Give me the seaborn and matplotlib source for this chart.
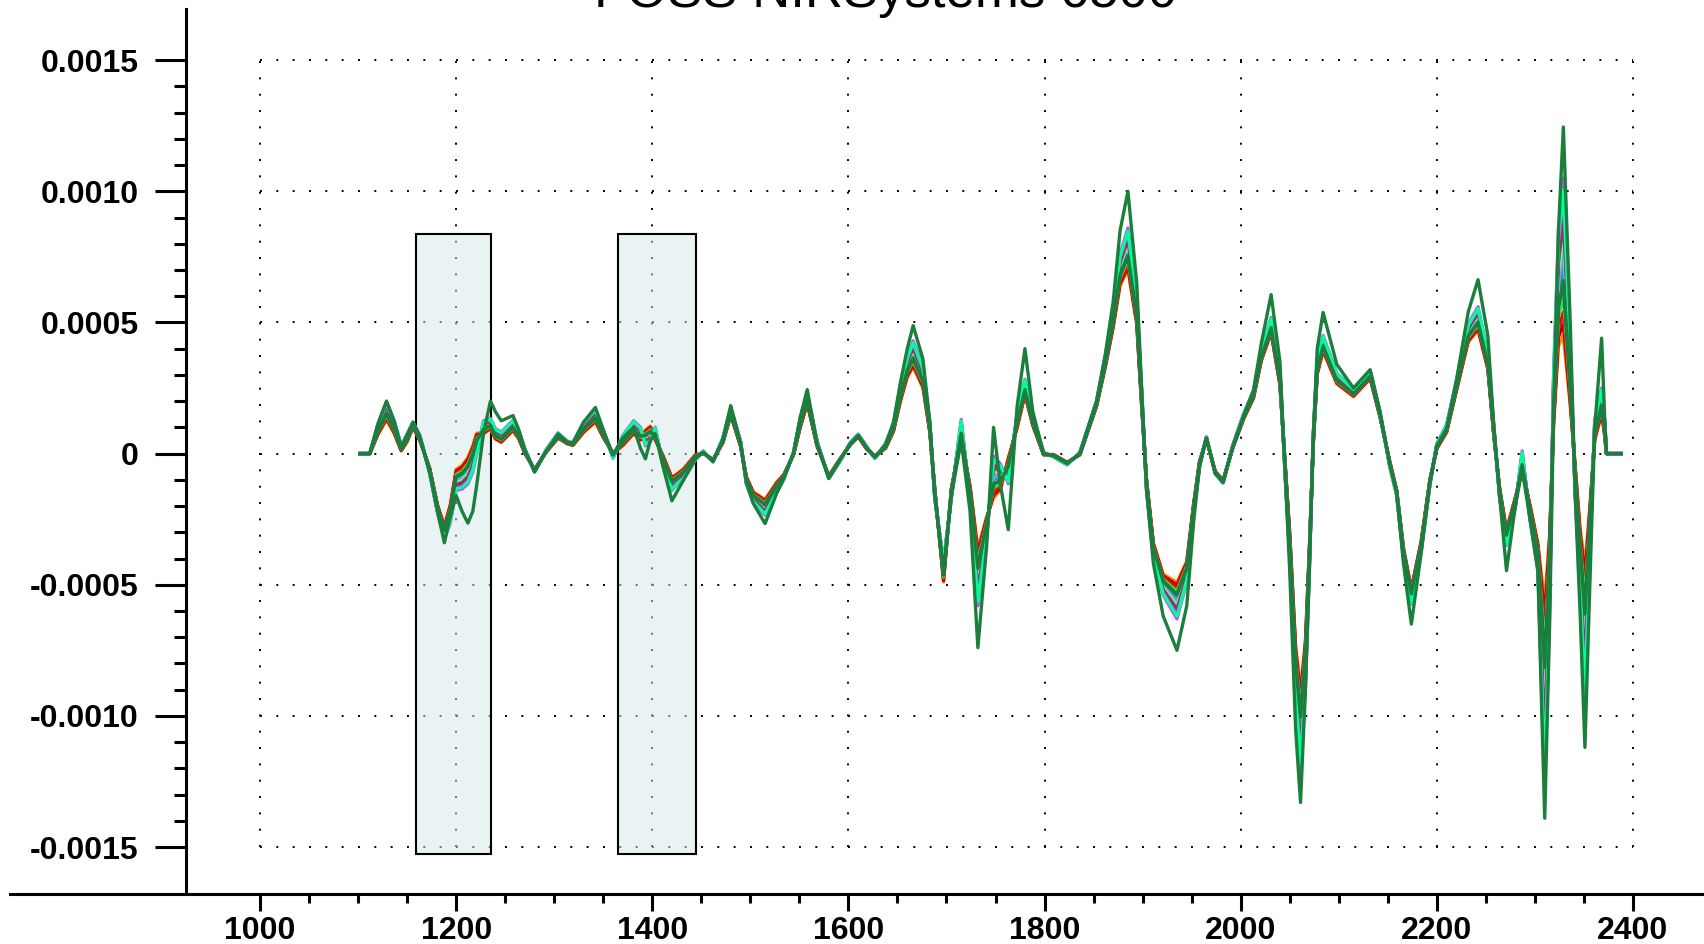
import numpy as np
import pandas as pd
import seaborn as sns
import matplotlib.pyplot as plt
from matplotlib.patches import Rectangle

# wavelength knots (nm)
wavelength = [1102, 1112, 1120, 1129, 1137, 1144, 1150, 1156, 1163, 1173,
              1181, 1188, 1194, 1200, 1206, 1212, 1217, 1221, 1228, 1235,
              1240, 1246, 1252, 1258, 1264, 1270, 1280, 1292, 1304, 1313,
              1319, 1330, 1342, 1350, 1360, 1370, 1381, 1388, 1393, 1398,
              1403, 1411, 1420, 1426, 1432, 1444, 1452, 1462, 1472, 1480,
              1490, 1496, 1503, 1515, 1527, 1534, 1544, 1551, 1558, 1568,
              1580, 1591, 1602, 1610, 1619, 1627, 1638, 1646, 1653, 1660,
              1666, 1676, 1683, 1688, 1697, 1705, 1715, 1724, 1732, 1741,
              1748, 1755, 1763, 1772, 1780, 1788, 1799, 1809, 1823, 1836,
              1853, 1862, 1870, 1877, 1885, 1894, 1899, 1904, 1911, 1921,
              1935, 1945, 1952, 1958, 1965, 1974, 1982, 1992, 2003, 2013,
              2021, 2031, 2040, 2045, 2050, 2056, 2061, 2066, 2070, 2074,
              2078, 2084, 2098, 2115, 2132, 2142, 2152, 2159, 2166, 2174,
              2184, 2193, 2200, 2210, 2220, 2232, 2242, 2252, 2258, 2264,
              2271, 2280, 2287, 2295, 2303, 2310, 2315, 2319, 2324, 2329,
              2336, 2341, 2346, 2351, 2356, 2361, 2368, 2371, 2373, 2388]

# centre of the coloured bundle, in 1e-4 units
bundle_mid = [0, 0, 0.9, 1.64, 1.0, 0.2, 0.6, 1.1, 0.6, -0.65,
              -2.1, -3.0, -2.3, -1.0, -0.9, -0.65, -0.2, 0.38, 1.0, 1.14,
              0.75, 0.62, 0.85, 1.07, 0.7, 0.1, -0.65, 0.11, 0.69, 0.43,
              0.36, 1.0, 1.45, 0.76, -0.08, 0.5, 1.0, 0.75, 0.6, 0.75,
              0.76, -0.27, -1.15, -0.95, -0.77, -0.14, 0.05, -0.27, 0.5, 1.6,
              0.38, -1.03, -1.66, -2.05, -1.28, -0.9, 0.0, 1.2, 2.1, 0.38,
              -0.9, -0.27, 0.38, 0.69, 0.2, -0.14, 0.3, 1.0, 2.28, 3.3,
              3.8, 2.9, 1.0, -1.5, -4.5, -1.5, 0.9, -1.5, -4.7, -2.8,
              -0.9, -0.9, -0.65, 1.26, 2.53, 1.26, 0.0, -0.08, -0.38, 0.0,
              1.9, 3.5, 5.2, 7.0, 7.8, 5.4, 2.1, -1.2, -3.7, -5.0,
              -5.6, -4.5, -2.1, -0.4, 0.59, -0.72, -1.07, 0.27, 1.42, 2.25,
              3.73, 4.89, 2.9, -0.4, -3.5, -8.3, -10.5, -8.0, -4.0, 0.55,
              3.3, 4.2, 2.86, 2.32, 3.0, 1.5, -0.4, -1.48, -3.8, -5.44,
              -3.53, -1.07, 0.28, 0.96, 2.59, 4.6, 5.15, 3.5, 0.9, -1.5,
              -3.2, -1.87, -0.3, -2.24, -3.9, -9.2, -4.5, 2.0, 6.3, 7.5,
              3.0, -1.0, -4.0, -6.9, -3.0, 0.9, 2.0, 1.0, 0.0, 0.0]

# signed half-width of the bundle (positive = strong samples lie higher)
bundle_spread = [0, 0, 0.2, 0.35, 0.25, 0.1, 0.15, 0.1, 0.1, -0.1,
                 -0.15, -0.25, -0.35, -0.4, -0.45, -0.5, -0.5, -0.4, 0.25, 0.2,
                 0.2, 0.2, 0.2, 0.2, 0.15, 0.1, -0.05, 0.05, 0.1, 0.05,
                 0.05, 0.2, 0.25, 0.15, -0.1, 0.2, 0.25, 0.25, -0.3, -0.3,
                 0.25, -0.2, -0.25, -0.2, -0.2, -0.1, 0.05, -0.05, 0.1, 0.15,
                 0.1, -0.15, -0.2, -0.3, -0.2, -0.1, 0.05, 0.2, 0.2, 0.1,
                 -0.05, -0.05, 0.05, 0.05, 0.05, -0.05, 0.1, 0.15, 0.3, 0.4,
                 0.5, 0.4, 0.2, -0.2, 0.4, -0.2, 0.4, -0.3, -1.1, -0.4,
                 0.8, 0.5, -0.5, 0.3, 0.3, 0.2, 0.05, -0.05, -0.05, 0.05,
                 0.1, 0.2, 0.4, 0.6, 0.8, 0.5, 0.3, -0.2, -0.3, -0.4,
                 -0.7, -0.4, -0.2, -0.1, 0.05, -0.05, -0.05, 0.05, 0.1, 0.15,
                 0.2, 0.3, 0.3, -0.2, -0.5, -1.0, -1.5, -0.9, -0.4, 0.2,
                 0.3, 0.3, 0.2, 0.15, 0.15, 0.1, -0.1, -0.1, -0.2, -0.3,
                 -0.2, -0.1, 0.1, 0.15, 0.2, 0.35, 0.45, 0.3, 0.2, -0.2,
                 -0.3, -0.2, 0.4, -0.3, -0.5, -3.5, -1.5, 1.0, 2.2, 3.0,
                 1.2, -0.6, -1.2, -2.6, -1.0, 0.4, 0.5, 0.3, 0.0, 0.0]

# the outlying dark green spectrum
outlier = [0, 0, 1.1, 2.0, 1.2, 0.25, 0.7, 1.2, 0.65, -0.7,
           -2.2, -3.4, -2.4, -1.6, -2.2, -2.65, -2.2, -1.2, 0.8, 2.0,
           1.6, 1.25, 1.35, 1.45, 0.9, 0.15, -0.7, 0.1, 0.75, 0.45,
           0.4, 1.2, 1.76, 0.9, -0.05, 0.6, 1.0, 0.2, -0.2, 0.5,
           0.76, -0.5, -1.8, -1.4, -1.0, -0.2, 0.05, -0.3, 0.55, 1.83,
           0.4, -1.1, -1.9, -2.67, -1.5, -0.95, 0.0, 1.4, 2.44, 0.4,
           -0.95, -0.27, 0.38, 0.7, 0.2, -0.14, 0.35, 1.2, 2.7, 4.0,
           4.88, 3.6, 1.2, -1.6, -4.5, -1.6, 0.5, -2.2, -7.4, -3.5,
           1.0, -1.2, -2.9, 1.8, 4.0, 1.6, 0.0, -0.08, -0.38, 0.0,
           2.0, 3.8, 5.8, 8.5, 10.0, 6.5, 2.5, -1.4, -4.2, -6.2,
           -7.5, -5.8, -2.6, -0.5, 0.6, -0.75, -1.1, 0.27, 1.45, 2.4,
           4.2, 6.06, 3.5, -0.5, -4.5, -10.5, -13.3, -9.0, -4.5, 0.6,
           4.0, 5.38, 3.4, 2.5, 3.2, 1.6, -0.4, -1.5, -4.2, -6.5,
           -3.8, -1.1, 0.3, 0.96, 2.8, 5.4, 6.63, 4.5, 1.1, -1.6,
           -4.46, -2.0, -0.6, -2.5, -4.5, -13.9, -6.5, 1.5, 8.5, 12.45,
           5.0, -1.5, -6.0, -11.2, -5.0, 1.0, 4.4, 1.5, 0.0, 0.0]

sample_colors = ['#ff8c00', '#b00000', '#ff0000', '#33dd33', '#0000ff',
                 '#1e90ff', '#999999', '#30d5c8', '#c8c8c8', '#00a000',
                 '#d0008c', '#ff00ff', '#cc44ff', '#00ff99', '#1b7f3b']
# position of each sample inside the bundle (-1 weak ... 1 strong)
sample_position = [-1.0, -0.85, -0.7, -0.5, -0.3,
                   -0.1, 0.1, 0.2, 0.3, 0.45,
                   0.6, 0.75, 1.0, 0.85, -0.3]

x_ticks = [1000, 1200, 1400, 1600, 1800, 2000, 2200, 2400]
y_ticks = [0.0015, 0.0010, 0.0005, 0, -0.0005, -0.0010, -0.0015]
y_labels = ['0.0015', '0.0010', '0.0005', '0', '-0.0005', '-0.0010', '-0.0015']
boxes = [(1159, 1236), (1365, 1445)]
box_top, box_bottom = 0.000839, -0.001527

assert len(wavelength) == len(bundle_mid) == len(bundle_spread) == len(outlier)

rows = []
mid = np.array(bundle_mid)
spr = np.array(bundle_spread)
for i, pos in enumerate(sample_position):
    vals = (mid + pos * spr) * 1e-4
    for w, v in zip(wavelength, vals):
        rows.append({'sample': f's{i}', 'wavelength': w, 'value': v})
for w, v in zip(wavelength, outlier):
    rows.append({'sample': 'outlier', 'wavelength': w, 'value': v * 1e-4})
df = pd.DataFrame(rows)

palette = {f's{i}': c for i, c in enumerate(sample_colors)}
palette['outlier'] = '#1b7f3b'
order = [f's{i}' for i in range(len(sample_colors))] + ['outlier']

fig = plt.figure(figsize=(17.04, 9.44), dpi=100)
ax = fig.add_axes([10 / 1704, 50 / 944, 1694 / 1704, 885 / 944])

# dotted grid only inside the tick range
ax.hlines(y_ticks, 1000, 2400, colors='black', linestyles=(0, (1, 7.4)),
          linewidth=1.4, zorder=1)
ax.vlines(x_ticks, -0.0015, 0.0015, colors='black', linestyles=(0, (1, 7.4)),
          linewidth=1.4, zorder=1)

for x0, x1 in boxes:
    ax.add_patch(Rectangle((x0, box_bottom), x1 - x0, box_top - box_bottom,
                           facecolor=(0.84, 0.914, 0.922, 0.5),
                           edgecolor='black', linewidth=1.5, zorder=2))

sns.lineplot(data=df, x='wavelength', y='value', hue='sample', hue_order=order,
             palette=palette, estimator=None, sort=False, legend=False,
             linewidth=2.4, ax=ax, zorder=3)

ax.set_xlim(745.1, 2472.4)
ax.set_ylim(-0.001679, 0.001695)
ax.set_xlabel('')
ax.set_ylabel('')

for s in ['top', 'right']:
    ax.spines[s].set_visible(False)
ax.spines['left'].set_position(('data', 924.5))
ax.spines['left'].set_linewidth(2.2)
ax.spines['bottom'].set_linewidth(2.2)

ax.set_xticks(x_ticks)
ax.set_xticks([x for x in range(1050, 2400, 50) if x % 200 != 0], minor=True)
ax.set_xticklabels([str(x) for x in x_ticks], fontsize=23, fontweight='bold',
                   family='Liberation Sans')
ax.set_yticks(y_ticks)
ax.set_yticks([v / 10000 for v in range(-15, 16) if v % 5 != 0], minor=True)
ax.set_yticklabels(y_labels, fontsize=23, fontweight='bold',
                   family='Liberation Sans')

ax.tick_params(axis='x', which='major', length=12, width=2.2, pad=3.5)
ax.tick_params(axis='x', which='minor', length=6.5, width=2.2)
ax.tick_params(axis='y', which='major', length=22, width=2.2, pad=12)
ax.tick_params(axis='y', which='minor', length=8.6, width=2.2)

fig.text(886 / 1704, 1 - 7 / 944, 'FOSS NIRSystems 6500', ha='center',
         va='baseline', fontsize=38, family='Liberation Sans')

fig.savefig('out.png', dpi=100)
